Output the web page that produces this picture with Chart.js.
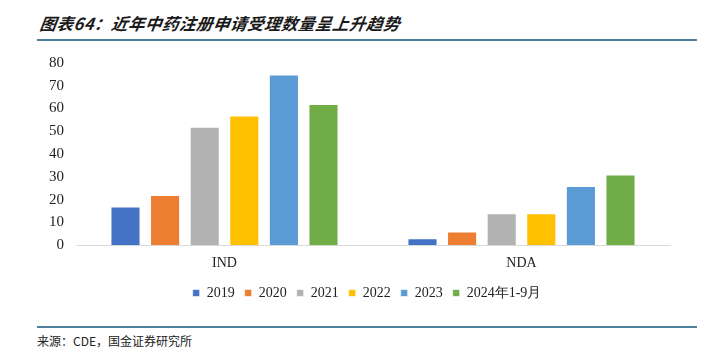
<!DOCTYPE html>
<html>
<head>
<meta charset="utf-8">
<script src="https://cdn.jsdelivr.net/npm/chart.js@4/dist/chart.umd.min.js"></script>
<style>
  html, body { margin: 0; padding: 0; background: #fff; }
  body { width: 708px; height: 359px; position: relative; overflow: hidden; }
  #title { position: absolute; left: 40px; top: 11px; font-family: "Noto Sans CJK SC", sans-serif; font-size: 16.5px; font-weight: bold; font-style: italic; color: #1a1a1a; letter-spacing: 0.5px; transform: skewX(-8deg); transform-origin: left; }
  #topline { position: absolute; left: 37px; top: 39px; width: 660px; height: 2px; background: #4F7F9C; }
  #botline { position: absolute; left: 37px; top: 326px; width: 660px; height: 2px; background: #4F7F9C; }
  #source { position: absolute; left: 37px; top: 332px; font-family: "Noto Sans CJK SC", sans-serif; font-size: 12px; color: #222; }
  #wrap { position: absolute; left: 0; top: 42px; width: 708px; height: 274px; }
  canvas { display: block; }
</style>
</head>
<body>
<div id="title">图表64：近年中药注册申请受理数量呈上升趋势</div>
<div id="topline"></div>
<div id="wrap"><canvas id="c"></canvas></div>
<div id="botline"></div>
<div id="source">来源：CDE，国金证券研究所</div>
<script>
const categories = ["IND", "NDA"];
const seriesNames = ["2019", "2020", "2021", "2022", "2023", "2024年1-9月"];
const v2019 = [17, 3];
const v2020 = [22, 6];
const v2021 = [52, 14];
const v2022 = [57, 14];
const v2023 = [75, 26];
const v2024 = [62, 31];
const yTicks = [0, 10, 20, 30, 40, 50, 60, 70, 80];

const colors = ["#4472C4", "#ED7D31", "#B2B2B2", "#FFC000", "#5B9BD5", "#70AD47"];
const values = [v2019, v2020, v2021, v2022, v2023, v2024];

const legendShift = {
  id: "legendShift",
  afterLayout(chart) {
    const lg = chart.legend;
    if (!lg) return;
    lg.left += 32; lg.right += 32;
    lg.top -= 6; lg.bottom -= 6;
  }
};

new Chart(document.getElementById("c"), {
  type: "bar",
  data: {
    labels: categories,
    datasets: seriesNames.map((n, i) => ({
      label: n,
      data: values[i],
      backgroundColor: colors[i],
      borderColor: "rgba(255,255,255,0.6)",
      borderWidth: 1,
      categoryPercentage: 0.8,
      barPercentage: 0.76
    }))
  },
  plugins: [legendShift],
  options: {
    responsive: true,
    maintainAspectRatio: false,
    animation: false,
    devicePixelRatio: 1,
    layout: { padding: { left: 0, right: 38, top: 4, bottom: 0 } },
    plugins: {
      legend: {
        position: "bottom",
        labels: {
          boxWidth: 7, boxHeight: 7, padding: 10,
          color: "#222",
          font: { family: "Liberation Serif", size: 14 }
        }
      },
      tooltip: { enabled: false }
    },
    scales: {
      x: {
        grid: { display: false, drawTicks: false },
        border: { color: "#D9D9D9", width: 1 },
        ticks: { color: "#222", padding: 10, font: { family: "Liberation Serif", size: 14 } }
      },
      y: {
        min: 0, max: 80,
        afterFit: s => { s.width = 76; },
        afterBuildTicks: s => { s.ticks = yTicks.map(v => ({ value: v })); },
        grid: { display: false, drawTicks: false },
        border: { display: false },
        ticks: { autoSkip: false, color: "#222", padding: 12, font: { family: "Liberation Serif", size: 15 } }
      }
    }
  }
});
</script>
</body>
</html>
